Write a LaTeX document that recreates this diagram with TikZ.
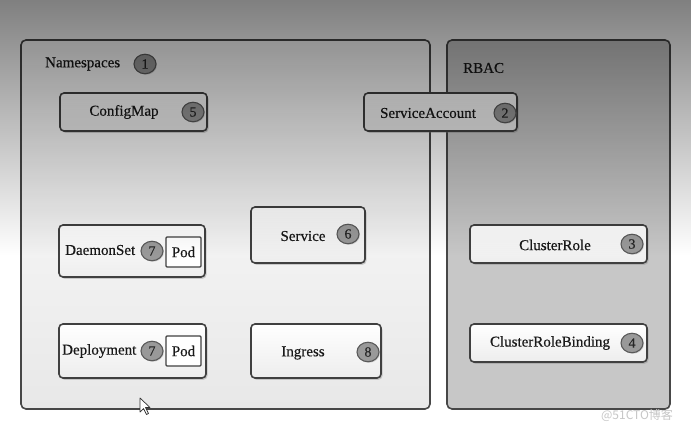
\documentclass[tikz,border=0pt]{standalone}
\usepackage{fontspec}
\setmainfont{Liberation Serif}[FakeBold=0.5]
\newfontfamily\cjkfont{Noto Sans CJK SC}
\usetikzlibrary{shapes.geometric,shadows,fadings}
\tikzfading[name=topdark, top color=transparent!50, bottom color=transparent!100]
\tikzset{
  outer/.style={draw=black!72, line width=1.6pt, rounded corners=5pt, inner sep=0pt},
  box/.style={draw=black!75, line width=1.6pt, rounded corners=4pt, top color=white, bottom color=black!7,
    drop shadow={shadow xshift=1.5pt, shadow yshift=-1.8pt, opacity=0.35}, inner sep=0pt},
  podbox/.style={draw=black!75, line width=1.4pt, rounded corners=1pt, fill=white, inner sep=0pt,
    minimum width=35pt, minimum height=30pt, font=\fontsize{15}{15}\selectfont, text=black!90},
  badge/.style={ellipse, draw=black!65, line width=1.1pt, fill=black!40, inner sep=0pt,
    minimum width=22pt, minimum height=19.5pt, font=\fontsize{14}{14}\selectfont, text=black!85,
    drop shadow={shadow xshift=1pt, shadow yshift=-1pt, opacity=0.3}},
  lbl/.style={font=\fontsize{15}{15}\selectfont, text=black!90, inner sep=0pt}
}
\begin{document}
\begin{tikzpicture}[x=1pt,y=-1pt]
\useasboundingbox (0,0) rectangle (692,433);
\fill[white] (0,0) rectangle (692,433);
% containers
\node[outer, top color=white, bottom color=black!9, minimum width=409pt, minimum height=369pt] (ns) at (225.5,224.5) {};
\node[outer, top color=black!22, bottom color=black!22, minimum width=223pt, minimum height=369pt] (rbac) at (558.5,224.5) {};
\node[lbl, anchor=west] (nslbl) at (45,64) {Namespaces};
\node[badge] (b1) at (145,64) {1};
\node[lbl, anchor=west] (rbaclbl) at (463,68) {RBAC};
% boxes
\node[box, minimum width=147pt, minimum height=38pt] (cm) at (133.5,112) {};
\node[lbl] (cmt) at (124,112) {ConfigMap};
\node[badge] (b5) at (193,112) {5};
\node[box, minimum width=153pt, minimum height=38pt] (sa) at (440.5,112) {};
\node[lbl] (sat) at (428,113) {ServiceAccount};
\node[badge] (b2) at (505,113) {2};
\node[box, minimum width=146pt, minimum height=52pt] (ds) at (132,251) {};
\node[lbl, anchor=west] (dst) at (65,250) {DaemonSet};
\node[badge] (b7a) at (152,251) {7};
\node[podbox] (pod1) at (183.5,252) {Pod};
\node[box, minimum width=147pt, minimum height=54pt] (dep) at (132.5,351) {};
\node[lbl, anchor=west] (dept) at (62,351) {Deployment};
\node[badge] (b7b) at (152,351) {7};
\node[podbox] (pod2) at (183.5,351) {Pod};
\node[box, minimum width=114pt, minimum height=56pt] (svc) at (308,235) {};
\node[lbl] (svct) at (303,236) {Service};
\node[badge] (b6) at (348,234) {6};
\node[box, minimum width=130pt, minimum height=54pt] (ing) at (316,351) {};
\node[lbl] (ingt) at (303,353) {Ingress};
\node[badge] (b8) at (368,352) {8};
\node[box, minimum width=177pt, minimum height=38pt] (cr) at (558.5,244) {};
\node[lbl] (crt) at (555,245) {ClusterRole};
\node[badge] (b3) at (632,244) {3};
\node[box, minimum width=177pt, minimum height=38pt] (crb) at (558.5,343) {};
\node[lbl] (crbt) at (550,343) {ClusterRoleBinding};
\node[badge] (b4) at (632,343) {4};
% cursor
\draw[fill=white, draw=black!80, line width=0.7pt, line join=round]
  (140,398) -- (140,412) -- (143.5,408.5) -- (146.5,414.5) -- (148.5,413.5) -- (145.5,407.5) -- (150,407.5) -- cycle;
% darkening overlay
\fill[black, path fading=topdark] (0,0) rectangle (692,255);
% watermark
\node[font=\cjkfont\fontsize{12}{12}\selectfont, text=black!22, inner sep=0pt] (wm) at (637,415) {@51CTO博客};
\end{tikzpicture}
\end{document}
